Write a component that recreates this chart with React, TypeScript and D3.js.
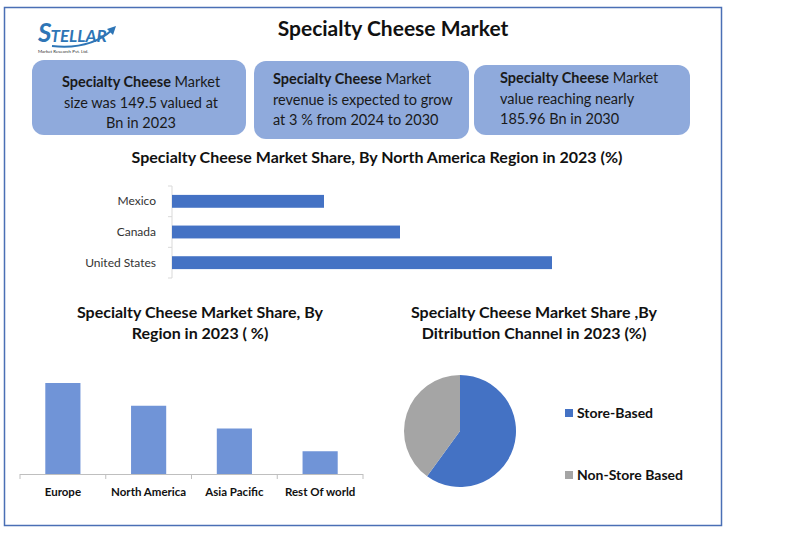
import * as d3 from 'd3'

// North America share (%)
const naRegions = ['Mexico', 'Canada', 'United States']
const naValues = [20, 30, 50]

// Regional share (%)
const regions = ['Europe', 'North America', 'Asia Pacific', 'Rest Of world']
const regionValues = [40, 30, 20, 10]

// Distribution channel (%)
const channels = ['Store-Based', 'Non-Store Based']
const channelValues = [60, 40]
const channelColors = ['#4472c4', '#a5a5a5']

const FONT = 'Lato, "Open Sans", sans-serif'
const W = 788
const H = 542

function Logo() {
  return (
    <g>
      <text x={38} y={42} fontFamily={FONT} fontWeight={700} fontStyle="italic" fill="#2e75b6">
        <tspan fontSize={26}>S</tspan>
        <tspan fontSize={17} dx={-1}>TELLAR</tspan>
      </text>
      <path d="M52 46 Q 90 50 112 30" fill="none" stroke="#2e75b6" strokeWidth={2} />
      <path d="M107 29 L116 26 L113 35 Z" fill="#2e75b6" />
      <text x={38} y={53} fontFamily={FONT} fontSize={4.5} fill="#333">Market Research Pvt. Ltd.</text>
    </g>
  )
}

function InfoBox({ x, y, w, h, lines, align, tx, top }: { x: number; y: number; w: number; h: number; lines: [string, string][]; align: 'middle' | 'start'; tx: number; top: number }) {
  return (
    <g>
      <rect x={x} y={y} width={w} height={h} rx={12} fill="#8faadc" />
      {lines.map(([b, n], i) => (
        <text key={i} x={tx} y={top + i * 20.5} textAnchor={align} fontFamily={FONT} fontSize={14.5} fill="#1a1a1a">
          {b && <tspan fontWeight={700}>{b}</tspan>}
          {n}
        </text>
      ))}
    </g>
  )
}

function NorthAmericaBars() {
  const left = 172
  const x = d3.scaleLinear().domain([0, 50]).range([0, 380])
  const y = d3.scaleBand().domain(naRegions).range([186, 278]).paddingInner(0.58).paddingOuter(0.29)
  const step = y.step()
  return (
    <g>
      <text x={377} y={163} textAnchor="middle" fontFamily={FONT} fontWeight={700} fontSize={16} fill="#111">
        Specialty Cheese Market Share, By North America Region in 2023 (%)
      </text>
      <line x1={left} x2={left} y1={186} y2={278} stroke="#d9d9d9" />
      {d3.range(naRegions.length + 1).map((i) => (
        <line key={i} x1={left - 4} x2={left} y1={186 + i * step} y2={186 + i * step} stroke="#d9d9d9" />
      ))}
      {naRegions.map((r, i) => (
        <g key={r}>
          <rect x={left} y={y(r)!} width={x(naValues[i])} height={y.bandwidth()} fill="#4472c4" />
          <text x={156} y={y(r)! + y.bandwidth() / 2 + 4} textAnchor="end" fontFamily={FONT} fontSize={12} fill="#333">
            {r}
          </text>
        </g>
      ))}
    </g>
  )
}

function RegionBars() {
  const x = d3.scaleBand().domain(regions).range([20, 363]).paddingInner(0.59).paddingOuter(0.295)
  const y = d3.scaleLinear().domain([0, 40]).range([474, 383])
  const step = x.step()
  return (
    <g>
      <text textAnchor="middle" fontFamily={FONT} fontWeight={700} fontSize={16} fill="#111">
        <tspan x={200} y={318}>Specialty Cheese Market Share, By</tspan>
        <tspan x={200} y={339}>Region in 2023 ( %)</tspan>
      </text>
      {regions.map((r, i) => (
        <rect key={r} x={x(r)!} y={y(regionValues[i])} width={x.bandwidth()} height={474 - y(regionValues[i])} fill="#7094d7" />
      ))}
      <line x1={20} x2={363} y1={474.5} y2={474.5} stroke="#bfbfbf" />
      {d3.range(regions.length + 1).map((i) => (
        <line key={i} x1={20 + i * step} x2={20 + i * step} y1={474} y2={479} stroke="#bfbfbf" />
      ))}
      {regions.map((r) => (
        <text key={r} x={x(r)! + x.bandwidth() / 2} y={496} textAnchor="middle" fontFamily={FONT} fontWeight={700} fontSize={11.5} fill="#111">
          {r}
        </text>
      ))}
    </g>
  )
}

function ChannelPie() {
  const cx = 460
  const cy = 431
  const pie = d3.pie<number>().sort(null)(channelValues)
  const arc = d3.arc<d3.PieArcDatum<number>>().innerRadius(0).outerRadius(56)
  const legendY = [413, 475]
  return (
    <g>
      <text textAnchor="middle" fontFamily={FONT} fontWeight={700} fontSize={16} fill="#111">
        <tspan x={534} y={318}>Specialty Cheese Market Share ,By</tspan>
        <tspan x={534} y={339}>Ditribution Channel in 2023 (%)</tspan>
      </text>
      <g transform={`translate(${cx},${cy})`}>
        {pie.map((p, i) => (
          <path key={i} d={arc(p)!} fill={channelColors[i]} />
        ))}
      </g>
      {channels.map((c, i) => (
        <g key={c}>
          <rect x={565} y={legendY[i] - 4} width={8} height={8} fill={channelColors[i]} />
          <text x={577} y={legendY[i] + 5} fontFamily={FONT} fontWeight={700} fontSize={14} fill="#111">
            {c}
          </text>
        </g>
      ))}
    </g>
  )
}

export default function App() {
  return (
    <svg width={W} height={H} style={{ display: 'block', position: 'absolute', left: 0, top: 0 }}>
      <rect x={0} y={0} width={W} height={H} fill="#fff" />
      <rect x={4.5} y={7.5} width={717} height={518} fill="none" stroke="#4a6fb5" strokeWidth={1.5} />
      <Logo />
      <text x={393} y={36} textAnchor="middle" fontFamily={FONT} fontWeight={700} fontSize={21} fill="#111">
        Specialty Cheese Market
      </text>
      <InfoBox
        x={32}
        y={60}
        w={214}
        h={75}
        align="middle"
        tx={141}
        top={87}
        lines={[
          ['Specialty Cheese', ' Market'],
          ['', 'size was 149.5 valued at'],
          ['', 'Bn in 2023'],
        ]}
      />
      <InfoBox
        x={254}
        y={61}
        w={215}
        h={78}
        align="start"
        tx={273}
        top={84}
        lines={[
          ['Specialty Cheese', ' Market'],
          ['', 'revenue is expected to grow'],
          ['', 'at 3 % from 2024 to 2030'],
        ]}
      />
      <InfoBox
        x={474}
        y={65}
        w={216}
        h={70}
        align="start"
        tx={500}
        top={83}
        lines={[
          ['Specialty Cheese', ' Market'],
          ['', 'value reaching nearly'],
          ['', '185.96 Bn in 2030'],
        ]}
      />
      <NorthAmericaBars />
      <RegionBars />
      <ChannelPie />
    </svg>
  )
}
